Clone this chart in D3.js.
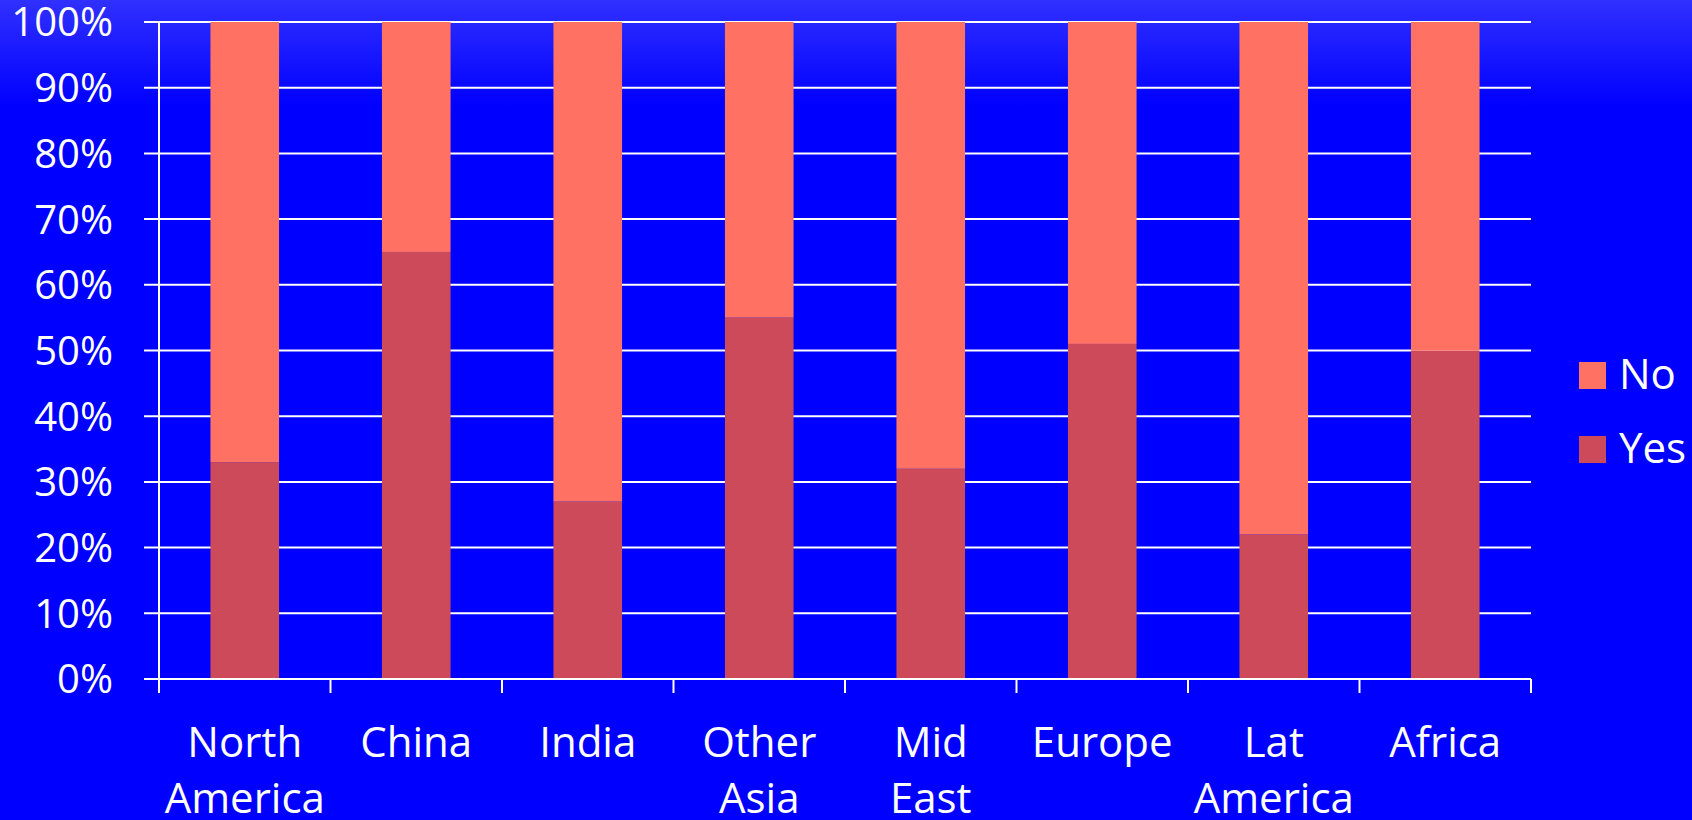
<!DOCTYPE html>
<html lang="en">
<head>
<meta charset="UTF-8">
<title>Yes / No by region</title>
<script src="https://d3js.org/d3.v7.min.js"></script>
<style>
  html, body { margin: 0; padding: 0; overflow: hidden; }
  body { width: 1692px; height: 820px; }
  svg text { font-family: "Open Sans", Lato, sans-serif; fill: #fff; }
</style>
</head>
<body>
<div id="chart"></div>
<script>
// data
var regions = ["North America", "China", "India", "Other Asia", "Mid East", "Europe", "Lat America", "Africa"];
var yesValues = [33, 65, 27, 55, 32, 51, 22, 50];
var noValues = [67, 35, 73, 45, 68, 49, 78, 50];
var seriesKeys = ["Yes", "No"];
var yTicks = [0, 10, 20, 30, 40, 50, 60, 70, 80, 90, 100];

var W = 1692, H = 820;
var margin = {top: 22, right: 161, bottom: 141, left: 159};
var width = W - margin.left - margin.right,
    height = H - margin.top - margin.bottom;

var svg = d3.select("#chart").append("svg")
    .attr("width", W).attr("height", H);

var defs = svg.append("defs");
var grad = defs.append("linearGradient").attr("id", "bg")
    .attr("x1", 0).attr("y1", 0).attr("x2", 0).attr("y2", 1);
grad.append("stop").attr("offset", "0%").attr("stop-color", "#3030ff");
grad.append("stop").attr("offset", "13%").attr("stop-color", "#0000ff");
grad.append("stop").attr("offset", "100%").attr("stop-color", "#0000ff");
svg.append("rect").attr("width", W).attr("height", H).attr("fill", "url(#bg)");

var g = svg.append("g").attr("transform", "translate(" + margin.left + "," + margin.top + ")");

var table = regions.map(function(r, i) { return {region: r, Yes: yesValues[i], No: noValues[i]}; });
var stacked = d3.stack().keys(seriesKeys)(table);

var x = d3.scaleBand().domain(regions).range([0, width]).paddingInner(0.6).paddingOuter(0.3);
var xb = d3.scaleBand().domain(regions).range([0, width]);
var y = d3.scaleLinear().domain([0, 100]).range([height, 0]);

var color = d3.scaleOrdinal().domain(seriesKeys).range(["#cc4a5a", "#ff7163"]);

// gridlines
g.append("g").selectAll("line").data(yTicks).enter().append("line")
    .attr("x1", -15).attr("x2", width)
    .attr("y1", d => y(d)).attr("y2", d => y(d))
    .attr("stroke", "#fff").attr("stroke-width", 2);

// y labels
g.append("g").selectAll("text").data(yTicks).enter().append("text")
    .attr("x", -46).attr("y", d => y(d))
    .attr("dy", "0.36em")
    .attr("text-anchor", "end")
    .style("font-size", "40px")
    .text(d => d + "%");

// bars
g.append("g").selectAll("g").data(stacked).enter().append("g")
    .attr("fill", d => color(d.key))
    .selectAll("rect").data(d => d).enter().append("rect")
    .attr("x", d => x(d.data.region))
    .attr("y", d => y(d[1]))
    .attr("height", d => y(d[0]) - y(d[1]))
    .attr("width", x.bandwidth());

// axes lines
g.append("line").attr("x1", 0).attr("x2", 0).attr("y1", 0).attr("y2", height + 14)
    .attr("stroke", "#fff").attr("stroke-width", 2);
g.append("line").attr("x1", -15).attr("x2", width).attr("y1", height).attr("y2", height)
    .attr("stroke", "#fff").attr("stroke-width", 2);
var boundaries = regions.map(r => xb(r) + xb.bandwidth());
g.append("g").selectAll("line").data(boundaries).enter().append("line")
    .attr("x1", d => d).attr("x2", d => d)
    .attr("y1", height).attr("y2", height + 14)
    .attr("stroke", "#fff").attr("stroke-width", 2);

// x labels, wrapped on the space
var xl = g.append("g").selectAll("text").data(regions).enter().append("text")
    .attr("text-anchor", "middle")
    .style("font-size", "42px")
    .attr("transform", d => "translate(" + (xb(d) + xb.bandwidth() / 2) + "," + (height + 78) + ")");
xl.each(function(d) {
    var words = d.split(" ");
    var t = d3.select(this);
    words.forEach(function(w, i) {
        t.append("tspan").attr("x", 0).attr("y", i * 56).text(w);
    });
});

// legend
var legendKeys = ["No", "Yes"];
var legend = svg.append("g").selectAll("g").data(legendKeys).enter().append("g")
    .attr("transform", (d, i) => "translate(1579," + (362 + i * 74) + ")");
legend.append("rect").attr("width", 27).attr("height", 27).attr("fill", d => color(d));
legend.append("text").attr("x", 40).attr("y", 27)
    .style("font-size", "42px")
    .text(d => d);
</script>
</body>
</html>
